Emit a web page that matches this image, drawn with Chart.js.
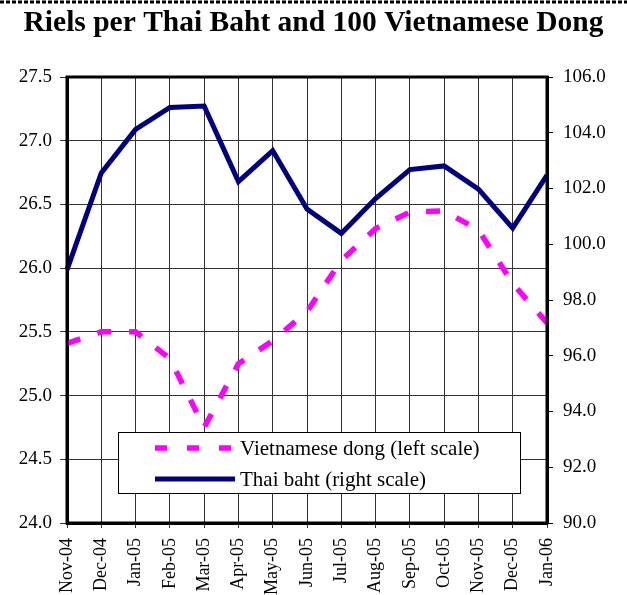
<!DOCTYPE html>
<html lang="en">
<head>
    <meta charset="UTF-8">
    <title>Riels per Thai Baht and 100 Vietnamese Dong</title>
    <script src="https://cdn.jsdelivr.net/npm/chart.js@4/dist/chart.umd.min.js"></script>
    <style>
        html, body { margin: 0; padding: 0; background: #fff; }
        #wrap { width: 627px; height: 595px; position: relative; }
    </style>
</head>
<body>
    <div id="wrap"><canvas id="chart" width="627" height="595"></canvas></div>

    <script>
        // month labels
        const months = ['Nov-04', 'Dec-04', 'Jan-05', 'Feb-05', 'Mar-05', 'Apr-05', 'May-05', 'Jun-05',
                        'Jul-05', 'Aug-05', 'Sep-05', 'Oct-05', 'Nov-05', 'Dec-05', 'Jan-06'];

        // riels per 100 dong (left scale)
        const dongValues = [25.41, 25.50, 25.50, 25.29, 24.75, 25.25, 25.43, 25.66,
                            26.06, 26.31, 26.44, 26.45, 26.30, 25.88, 25.57];

        // riels per baht (right scale)
        const bahtValues = [99.08, 102.56, 104.12, 104.91, 104.96, 102.25, 103.36, 101.26,
                            100.39, 101.64, 102.68, 102.81, 101.98, 100.58, 102.48];

        const leftTicks = { min: 24, max: 27.5, step: 0.5 };
        const rightTicks = { min: 90, max: 106, step: 2 };

        const serif = "'Liberation Serif', 'Times New Roman', serif";
        const gridColor = '#333';

        // dotted rule across the top + frame + in-plot legend
        const decorations = {
            id: 'decorations',
            beforeDraw(chart) {
                const ctx = chart.ctx;
                ctx.save();
                ctx.strokeStyle = '#000';
                ctx.lineWidth = 3;
                ctx.setLineDash([4, 2]);
                ctx.beginPath();
                ctx.moveTo(0, 2);
                ctx.lineTo(chart.width, 2);
                ctx.stroke();
                ctx.restore();
            },
            afterDraw(chart) {
                const ctx = chart.ctx;
                const ca = chart.chartArea;
                ctx.save();
                ctx.strokeStyle = '#000';
                ctx.lineWidth = 3;
                ctx.strokeRect(ca.left, ca.top, ca.right - ca.left, ca.bottom - ca.top);

                // legend box
                const bx = ca.left + 51, by = ca.bottom - 91, bw = 402, bh = 61;
                ctx.fillStyle = '#fff';
                ctx.fillRect(bx, by, bw, bh);
                ctx.lineWidth = 1;
                ctx.strokeRect(bx + 0.5, by + 0.5, bw, bh);

                ctx.font = '21px ' + serif;
                ctx.textBaseline = 'middle';
                ctx.textAlign = 'left';
                chart.data.datasets.forEach((ds, i) => {
                    const y = by + 16 + i * 31;
                    ctx.beginPath();
                    ctx.strokeStyle = ds.borderColor;
                    ctx.lineWidth = ds.borderWidth;
                    ctx.setLineDash(ds.borderDash ? [12, 20] : []);
                    ctx.moveTo(bx + 37, y);
                    ctx.lineTo(bx + 117, y);
                    ctx.stroke();
                    ctx.setLineDash([]);
                    ctx.fillStyle = '#000';
                    ctx.fillText(ds.label, bx + 122, y + 1);
                });
                ctx.restore();
            }
        };

        new Chart(document.getElementById('chart'), {
            type: 'line',
            data: {
                labels: months,
                datasets: [
                    {
                        label: 'Vietnamese dong (left scale)',
                        data: dongValues,
                        yAxisID: 'y',
                        borderColor: '#ff00ff',
                        borderWidth: 5.5,
                        borderDash: [14, 18],
                        borderCapStyle: 'butt',
                        pointRadius: 0,
                        tension: 0
                    },
                    {
                        label: 'Thai baht (right scale)',
                        data: bahtValues,
                        yAxisID: 'y2',
                        borderColor: '#000080',
                        borderWidth: 5,
                        pointRadius: 0,
                        tension: 0
                    }
                ]
            },
            options: {
                responsive: false,
                animation: false,
                layout: { padding: 0 },
                plugins: {
                    legend: { display: false },
                    tooltip: { enabled: false },
                    title: {
                        display: true,
                        text: 'Riels per Thai Baht and 100 Vietnamese Dong',
                        color: '#000',
                        font: { family: serif, size: 29.5, weight: 'bold', lineHeight: 1.2 },
                        padding: { top: 6, bottom: 35.6 }
                    }
                },
                scales: {
                    x: {
                        grid: { color: gridColor, lineWidth: 1, tickLength: 5 },
                        border: { color: '#000', width: 3 },
                        ticks: {
                            color: '#000',
                            font: { family: serif, size: 18 },
                            autoSkip: false,
                            minRotation: 90,
                            maxRotation: 90,
                            padding: 10
                        },
                        afterFit(scale) { scale.height = 72; }
                    },
                    y: {
                        position: 'left',
                        min: leftTicks.min,
                        max: leftTicks.max,
                        grid: { color: gridColor, lineWidth: 1, tickLength: 7 },
                        border: { color: '#000', width: 3 },
                        ticks: {
                            stepSize: leftTicks.step,
                            color: '#000',
                            font: { family: serif, size: 19 },
                            padding: 8,
                            callback: v => v.toFixed(1)
                        },
                        afterFit(scale) { scale.width = 67; }
                    },
                    y2: {
                        position: 'right',
                        min: rightTicks.min,
                        max: rightTicks.max,
                        grid: { drawOnChartArea: false, color: '#000', tickLength: 6 },
                        border: { color: '#000', width: 3 },
                        ticks: {
                            stepSize: rightTicks.step,
                            color: '#000',
                            font: { family: serif, size: 19 },
                            padding: 10,
                            callback: v => v.toFixed(1)
                        },
                        afterFit(scale) { scale.width = 80; }
                    }
                }
            },
            plugins: [decorations]
        });
    </script>
</body>
</html>
